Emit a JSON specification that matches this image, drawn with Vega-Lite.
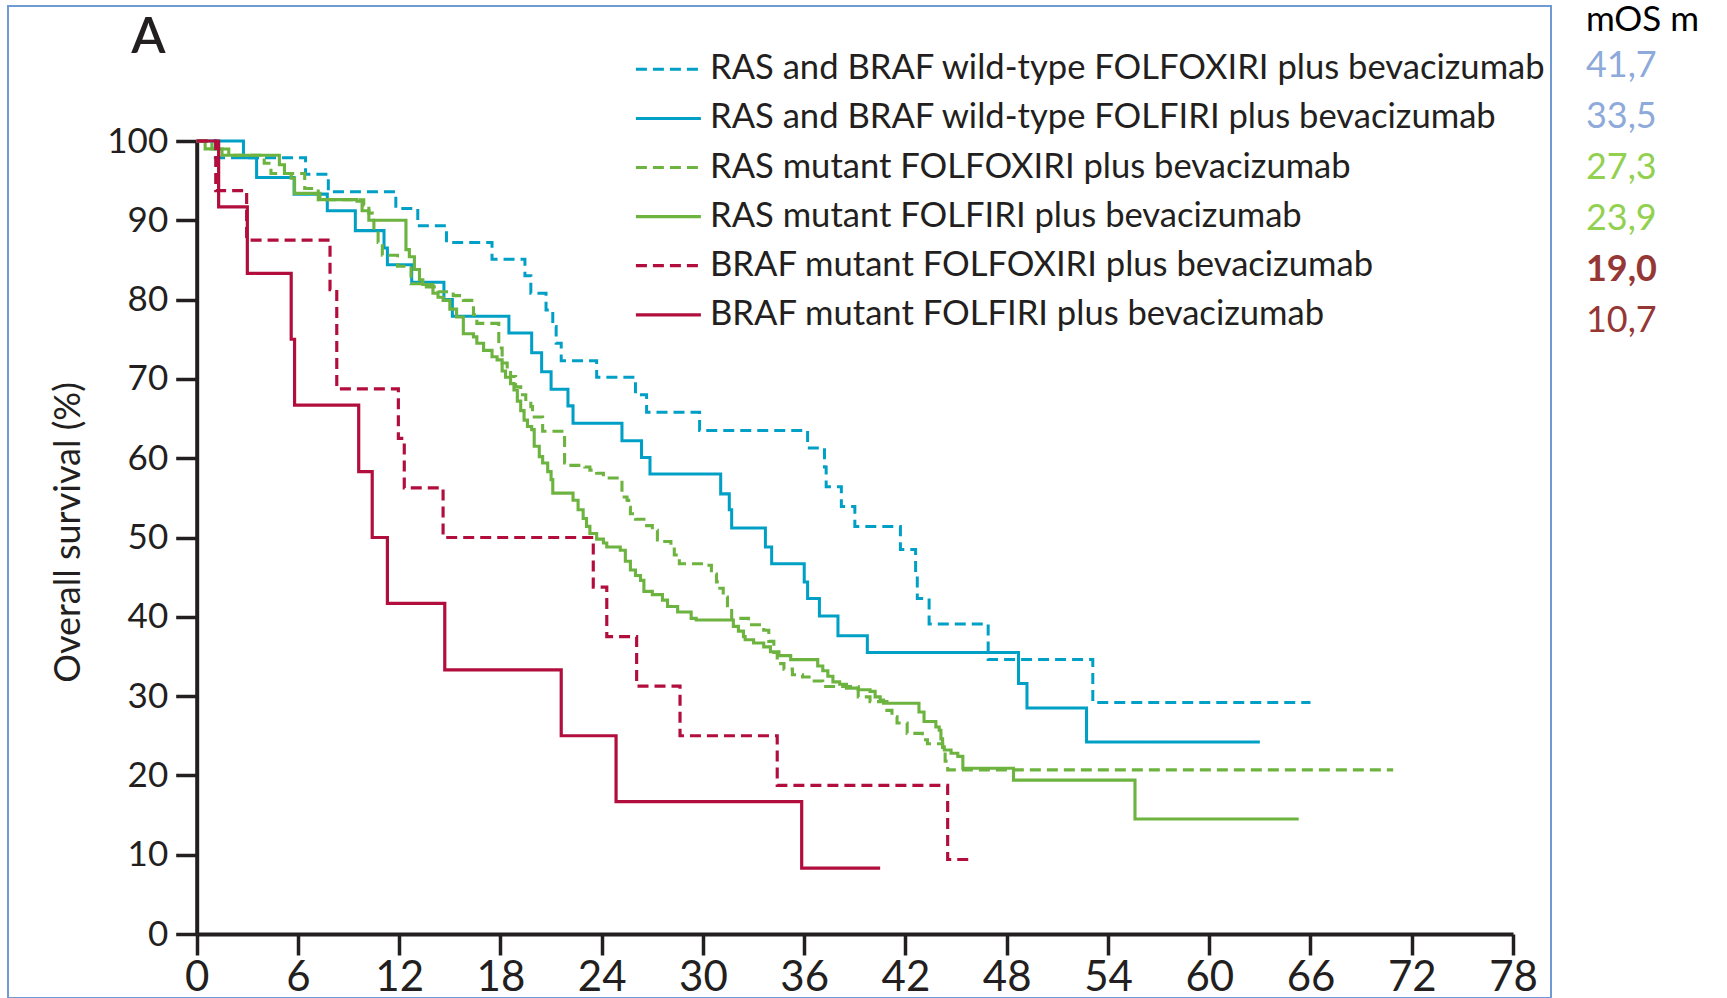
{
  "$schema": "https://vega.github.io/schema/vega-lite/v6.json",
  "width": 1543,
  "height": 992,
  "autosize": "none",
  "padding": {"left": 8, "top": 6, "right": 176, "bottom": 0},
  "background": "white",
  "config": {"view": {"stroke": "#6f9ad3", "strokeWidth": 2}, "font": "Lato"},
  "datasets": {
    "curves": [
      {"g": "RAS and BRAF wild-type FOLFOXIRI plus bevacizumab", "t": 0, "s": 100},
      {"g": "RAS and BRAF wild-type FOLFOXIRI plus bevacizumab", "t": 1.1, "s": 97.9},
      {"g": "RAS and BRAF wild-type FOLFOXIRI plus bevacizumab", "t": 6.45, "s": 95.8},
      {"g": "RAS and BRAF wild-type FOLFOXIRI plus bevacizumab", "t": 7.8, "s": 93.6},
      {"g": "RAS and BRAF wild-type FOLFOXIRI plus bevacizumab", "t": 11.8, "s": 91.5},
      {"g": "RAS and BRAF wild-type FOLFOXIRI plus bevacizumab", "t": 13.1, "s": 89.3},
      {"g": "RAS and BRAF wild-type FOLFOXIRI plus bevacizumab", "t": 14.8, "s": 87.2},
      {"g": "RAS and BRAF wild-type FOLFOXIRI plus bevacizumab", "t": 17.5, "s": 85.1},
      {"g": "RAS and BRAF wild-type FOLFOXIRI plus bevacizumab", "t": 19.45, "s": 83.0},
      {"g": "RAS and BRAF wild-type FOLFOXIRI plus bevacizumab", "t": 19.8, "s": 80.8},
      {"g": "RAS and BRAF wild-type FOLFOXIRI plus bevacizumab", "t": 20.7, "s": 78.7},
      {"g": "RAS and BRAF wild-type FOLFOXIRI plus bevacizumab", "t": 21.1, "s": 76.6},
      {"g": "RAS and BRAF wild-type FOLFOXIRI plus bevacizumab", "t": 21.3, "s": 74.5},
      {"g": "RAS and BRAF wild-type FOLFOXIRI plus bevacizumab", "t": 21.6, "s": 72.3},
      {"g": "RAS and BRAF wild-type FOLFOXIRI plus bevacizumab", "t": 23.7, "s": 70.2},
      {"g": "RAS and BRAF wild-type FOLFOXIRI plus bevacizumab", "t": 26.0, "s": 68.0},
      {"g": "RAS and BRAF wild-type FOLFOXIRI plus bevacizumab", "t": 26.66, "s": 65.8},
      {"g": "RAS and BRAF wild-type FOLFOXIRI plus bevacizumab", "t": 29.8, "s": 63.5},
      {"g": "RAS and BRAF wild-type FOLFOXIRI plus bevacizumab", "t": 36.2, "s": 61.3},
      {"g": "RAS and BRAF wild-type FOLFOXIRI plus bevacizumab", "t": 37.2, "s": 58.9},
      {"g": "RAS and BRAF wild-type FOLFOXIRI plus bevacizumab", "t": 37.3, "s": 56.4},
      {"g": "RAS and BRAF wild-type FOLFOXIRI plus bevacizumab", "t": 38.2, "s": 53.9},
      {"g": "RAS and BRAF wild-type FOLFOXIRI plus bevacizumab", "t": 39.0, "s": 51.4},
      {"g": "RAS and BRAF wild-type FOLFOXIRI plus bevacizumab", "t": 41.7, "s": 48.5},
      {"g": "RAS and BRAF wild-type FOLFOXIRI plus bevacizumab", "t": 42.6, "s": 45.3},
      {"g": "RAS and BRAF wild-type FOLFOXIRI plus bevacizumab", "t": 42.7, "s": 42.3},
      {"g": "RAS and BRAF wild-type FOLFOXIRI plus bevacizumab", "t": 43.4, "s": 39.1},
      {"g": "RAS and BRAF wild-type FOLFOXIRI plus bevacizumab", "t": 46.9, "s": 34.6},
      {"g": "RAS and BRAF wild-type FOLFOXIRI plus bevacizumab", "t": 53.1, "s": 29.2},
      {"g": "RAS and BRAF wild-type FOLFOXIRI plus bevacizumab", "t": 66.0, "s": 29.2},

      {"g": "RAS and BRAF wild-type FOLFIRI plus bevacizumab", "t": 0, "s": 100},
      {"g": "RAS and BRAF wild-type FOLFIRI plus bevacizumab", "t": 2.77, "s": 97.9},
      {"g": "RAS and BRAF wild-type FOLFIRI plus bevacizumab", "t": 3.55, "s": 95.4},
      {"g": "RAS and BRAF wild-type FOLFIRI plus bevacizumab", "t": 5.77, "s": 93.3},
      {"g": "RAS and BRAF wild-type FOLFIRI plus bevacizumab", "t": 7.74, "s": 91.2},
      {"g": "RAS and BRAF wild-type FOLFIRI plus bevacizumab", "t": 9.4, "s": 88.7},
      {"g": "RAS and BRAF wild-type FOLFIRI plus bevacizumab", "t": 11.1, "s": 86.5},
      {"g": "RAS and BRAF wild-type FOLFIRI plus bevacizumab", "t": 11.3, "s": 84.4},
      {"g": "RAS and BRAF wild-type FOLFIRI plus bevacizumab", "t": 12.74, "s": 82.2},
      {"g": "RAS and BRAF wild-type FOLFIRI plus bevacizumab", "t": 14.65, "s": 80.0},
      {"g": "RAS and BRAF wild-type FOLFIRI plus bevacizumab", "t": 15.15, "s": 77.9},
      {"g": "RAS and BRAF wild-type FOLFIRI plus bevacizumab", "t": 18.5, "s": 75.8},
      {"g": "RAS and BRAF wild-type FOLFIRI plus bevacizumab", "t": 19.85, "s": 73.3},
      {"g": "RAS and BRAF wild-type FOLFIRI plus bevacizumab", "t": 20.44, "s": 70.9},
      {"g": "RAS and BRAF wild-type FOLFIRI plus bevacizumab", "t": 21.0, "s": 68.7},
      {"g": "RAS and BRAF wild-type FOLFIRI plus bevacizumab", "t": 22.0, "s": 66.6},
      {"g": "RAS and BRAF wild-type FOLFIRI plus bevacizumab", "t": 22.3, "s": 64.4},
      {"g": "RAS and BRAF wild-type FOLFIRI plus bevacizumab", "t": 25.2, "s": 62.2},
      {"g": "RAS and BRAF wild-type FOLFIRI plus bevacizumab", "t": 26.36, "s": 60.1},
      {"g": "RAS and BRAF wild-type FOLFIRI plus bevacizumab", "t": 26.86, "s": 58.0},
      {"g": "RAS and BRAF wild-type FOLFIRI plus bevacizumab", "t": 31.05, "s": 55.5},
      {"g": "RAS and BRAF wild-type FOLFIRI plus bevacizumab", "t": 31.56, "s": 53.5},
      {"g": "RAS and BRAF wild-type FOLFIRI plus bevacizumab", "t": 31.7, "s": 51.2},
      {"g": "RAS and BRAF wild-type FOLFIRI plus bevacizumab", "t": 33.7, "s": 48.8},
      {"g": "RAS and BRAF wild-type FOLFIRI plus bevacizumab", "t": 34.07, "s": 46.7},
      {"g": "RAS and BRAF wild-type FOLFIRI plus bevacizumab", "t": 36.0, "s": 44.4},
      {"g": "RAS and BRAF wild-type FOLFIRI plus bevacizumab", "t": 36.2, "s": 42.3},
      {"g": "RAS and BRAF wild-type FOLFIRI plus bevacizumab", "t": 36.9, "s": 40.1},
      {"g": "RAS and BRAF wild-type FOLFIRI plus bevacizumab", "t": 38.0, "s": 37.6},
      {"g": "RAS and BRAF wild-type FOLFIRI plus bevacizumab", "t": 39.74, "s": 35.5},
      {"g": "RAS and BRAF wild-type FOLFIRI plus bevacizumab", "t": 48.7, "s": 31.6},
      {"g": "RAS and BRAF wild-type FOLFIRI plus bevacizumab", "t": 49.2, "s": 28.5},
      {"g": "RAS and BRAF wild-type FOLFIRI plus bevacizumab", "t": 52.73, "s": 24.2},
      {"g": "RAS and BRAF wild-type FOLFIRI plus bevacizumab", "t": 63.0, "s": 24.2},

      {"g": "RAS mutant FOLFOXIRI plus bevacizumab", "t": 0, "s": 100},
      {"g": "RAS mutant FOLFOXIRI plus bevacizumab", "t": 0.9, "s": 99.0},
      {"g": "RAS mutant FOLFOXIRI plus bevacizumab", "t": 1.9, "s": 98.2},
      {"g": "RAS mutant FOLFOXIRI plus bevacizumab", "t": 4.0, "s": 97.2},
      {"g": "RAS mutant FOLFOXIRI plus bevacizumab", "t": 4.4, "s": 95.9},
      {"g": "RAS mutant FOLFOXIRI plus bevacizumab", "t": 6.4, "s": 94.0},
      {"g": "RAS mutant FOLFOXIRI plus bevacizumab", "t": 7.2, "s": 92.6},
      {"g": "RAS mutant FOLFOXIRI plus bevacizumab", "t": 9.9, "s": 91.9},
      {"g": "RAS mutant FOLFOXIRI plus bevacizumab", "t": 10.2, "s": 90.9},
      {"g": "RAS mutant FOLFOXIRI plus bevacizumab", "t": 10.4, "s": 90.2},
      {"g": "RAS mutant FOLFOXIRI plus bevacizumab", "t": 10.5, "s": 88.8},
      {"g": "RAS mutant FOLFOXIRI plus bevacizumab", "t": 10.75, "s": 87.2},
      {"g": "RAS mutant FOLFOXIRI plus bevacizumab", "t": 11.0, "s": 85.6},
      {"g": "RAS mutant FOLFOXIRI plus bevacizumab", "t": 11.9, "s": 84.2},
      {"g": "RAS mutant FOLFOXIRI plus bevacizumab", "t": 12.7, "s": 82.0},
      {"g": "RAS mutant FOLFOXIRI plus bevacizumab", "t": 13.4, "s": 81.6},
      {"g": "RAS mutant FOLFOXIRI plus bevacizumab", "t": 14.3, "s": 81.0},
      {"g": "RAS mutant FOLFOXIRI plus bevacizumab", "t": 15.2, "s": 80.5},
      {"g": "RAS mutant FOLFOXIRI plus bevacizumab", "t": 15.8, "s": 79.9},
      {"g": "RAS mutant FOLFOXIRI plus bevacizumab", "t": 16.3, "s": 79.3},
      {"g": "RAS mutant FOLFOXIRI plus bevacizumab", "t": 16.4, "s": 78.1},
      {"g": "RAS mutant FOLFOXIRI plus bevacizumab", "t": 16.6, "s": 77.0},
      {"g": "RAS mutant FOLFOXIRI plus bevacizumab", "t": 17.9, "s": 73.9},
      {"g": "RAS mutant FOLFOXIRI plus bevacizumab", "t": 18.1, "s": 72.0},
      {"g": "RAS mutant FOLFOXIRI plus bevacizumab", "t": 18.4, "s": 71.1},
      {"g": "RAS mutant FOLFOXIRI plus bevacizumab", "t": 18.6, "s": 70.3},
      {"g": "RAS mutant FOLFOXIRI plus bevacizumab", "t": 18.9, "s": 69.0},
      {"g": "RAS mutant FOLFOXIRI plus bevacizumab", "t": 19.2, "s": 68.0},
      {"g": "RAS mutant FOLFOXIRI plus bevacizumab", "t": 19.5, "s": 67.2},
      {"g": "RAS mutant FOLFOXIRI plus bevacizumab", "t": 19.8, "s": 66.5},
      {"g": "RAS mutant FOLFOXIRI plus bevacizumab", "t": 19.9, "s": 65.2},
      {"g": "RAS mutant FOLFOXIRI plus bevacizumab", "t": 20.5, "s": 63.4},
      {"g": "RAS mutant FOLFOXIRI plus bevacizumab", "t": 21.8, "s": 59.4},
      {"g": "RAS mutant FOLFOXIRI plus bevacizumab", "t": 22.0, "s": 59.1},
      {"g": "RAS mutant FOLFOXIRI plus bevacizumab", "t": 23.0, "s": 58.9},
      {"g": "RAS mutant FOLFOXIRI plus bevacizumab", "t": 23.3, "s": 58.5},
      {"g": "RAS mutant FOLFOXIRI plus bevacizumab", "t": 23.7, "s": 58.1},
      {"g": "RAS mutant FOLFOXIRI plus bevacizumab", "t": 24.1, "s": 57.7},
      {"g": "RAS mutant FOLFOXIRI plus bevacizumab", "t": 24.3, "s": 57.5},
      {"g": "RAS mutant FOLFOXIRI plus bevacizumab", "t": 25.2, "s": 55.1},
      {"g": "RAS mutant FOLFOXIRI plus bevacizumab", "t": 25.5, "s": 54.7},
      {"g": "RAS mutant FOLFOXIRI plus bevacizumab", "t": 25.6, "s": 53.8},
      {"g": "RAS mutant FOLFOXIRI plus bevacizumab", "t": 25.7, "s": 53.0},
      {"g": "RAS mutant FOLFOXIRI plus bevacizumab", "t": 26.0, "s": 52.3},
      {"g": "RAS mutant FOLFOXIRI plus bevacizumab", "t": 26.5, "s": 51.5},
      {"g": "RAS mutant FOLFOXIRI plus bevacizumab", "t": 27.0, "s": 50.9},
      {"g": "RAS mutant FOLFOXIRI plus bevacizumab", "t": 27.3, "s": 49.7},
      {"g": "RAS mutant FOLFOXIRI plus bevacizumab", "t": 27.5, "s": 49.5},
      {"g": "RAS mutant FOLFOXIRI plus bevacizumab", "t": 28.1, "s": 48.8},
      {"g": "RAS mutant FOLFOXIRI plus bevacizumab", "t": 28.3, "s": 47.8},
      {"g": "RAS mutant FOLFOXIRI plus bevacizumab", "t": 28.6, "s": 46.7},
      {"g": "RAS mutant FOLFOXIRI plus bevacizumab", "t": 30.2, "s": 46.5},
      {"g": "RAS mutant FOLFOXIRI plus bevacizumab", "t": 30.5, "s": 45.4},
      {"g": "RAS mutant FOLFOXIRI plus bevacizumab", "t": 30.8, "s": 44.4},
      {"g": "RAS mutant FOLFOXIRI plus bevacizumab", "t": 31.0, "s": 43.6},
      {"g": "RAS mutant FOLFOXIRI plus bevacizumab", "t": 31.2, "s": 42.5},
      {"g": "RAS mutant FOLFOXIRI plus bevacizumab", "t": 31.45, "s": 41.2},
      {"g": "RAS mutant FOLFOXIRI plus bevacizumab", "t": 31.7, "s": 39.8},
      {"g": "RAS mutant FOLFOXIRI plus bevacizumab", "t": 32.7, "s": 39.0},
      {"g": "RAS mutant FOLFOXIRI plus bevacizumab", "t": 33.6, "s": 38.3},
      {"g": "RAS mutant FOLFOXIRI plus bevacizumab", "t": 33.9, "s": 36.9},
      {"g": "RAS mutant FOLFOXIRI plus bevacizumab", "t": 34.2, "s": 35.5},
      {"g": "RAS mutant FOLFOXIRI plus bevacizumab", "t": 34.4, "s": 34.1},
      {"g": "RAS mutant FOLFOXIRI plus bevacizumab", "t": 34.8, "s": 33.4},
      {"g": "RAS mutant FOLFOXIRI plus bevacizumab", "t": 35.3, "s": 32.7},
      {"g": "RAS mutant FOLFOXIRI plus bevacizumab", "t": 35.9, "s": 32.4},
      {"g": "RAS mutant FOLFOXIRI plus bevacizumab", "t": 36.5, "s": 31.9},
      {"g": "RAS mutant FOLFOXIRI plus bevacizumab", "t": 37.1, "s": 31.2},
      {"g": "RAS mutant FOLFOXIRI plus bevacizumab", "t": 39.2, "s": 29.9},
      {"g": "RAS mutant FOLFOXIRI plus bevacizumab", "t": 39.9, "s": 29.3},
      {"g": "RAS mutant FOLFOXIRI plus bevacizumab", "t": 40.9, "s": 28.2},
      {"g": "RAS mutant FOLFOXIRI plus bevacizumab", "t": 41.2, "s": 27.4},
      {"g": "RAS mutant FOLFOXIRI plus bevacizumab", "t": 41.5, "s": 26.6},
      {"g": "RAS mutant FOLFOXIRI plus bevacizumab", "t": 42.1, "s": 25.3},
      {"g": "RAS mutant FOLFOXIRI plus bevacizumab", "t": 43.0, "s": 24.5},
      {"g": "RAS mutant FOLFOXIRI plus bevacizumab", "t": 43.3, "s": 24.0},
      {"g": "RAS mutant FOLFOXIRI plus bevacizumab", "t": 44.2, "s": 23.0},
      {"g": "RAS mutant FOLFOXIRI plus bevacizumab", "t": 44.35, "s": 21.8},
      {"g": "RAS mutant FOLFOXIRI plus bevacizumab", "t": 44.5, "s": 20.7},
      {"g": "RAS mutant FOLFOXIRI plus bevacizumab", "t": 70.9, "s": 20.7},

      {"g": "RAS mutant FOLFIRI plus bevacizumab", "t": 0, "s": 100},
      {"g": "RAS mutant FOLFIRI plus bevacizumab", "t": 0.5, "s": 99.0},
      {"g": "RAS mutant FOLFIRI plus bevacizumab", "t": 1.5, "s": 98.2},
      {"g": "RAS mutant FOLFIRI plus bevacizumab", "t": 4.9, "s": 97.0},
      {"g": "RAS mutant FOLFIRI plus bevacizumab", "t": 5.2, "s": 95.9},
      {"g": "RAS mutant FOLFIRI plus bevacizumab", "t": 5.6, "s": 95.3},
      {"g": "RAS mutant FOLFIRI plus bevacizumab", "t": 5.8, "s": 93.4},
      {"g": "RAS mutant FOLFIRI plus bevacizumab", "t": 7.3, "s": 92.6},
      {"g": "RAS mutant FOLFIRI plus bevacizumab", "t": 9.5, "s": 92.4},
      {"g": "RAS mutant FOLFIRI plus bevacizumab", "t": 9.8, "s": 91.2},
      {"g": "RAS mutant FOLFIRI plus bevacizumab", "t": 10.2, "s": 90.0},
      {"g": "RAS mutant FOLFIRI plus bevacizumab", "t": 12.4, "s": 86.3},
      {"g": "RAS mutant FOLFIRI plus bevacizumab", "t": 12.6, "s": 85.4},
      {"g": "RAS mutant FOLFIRI plus bevacizumab", "t": 12.9, "s": 83.8},
      {"g": "RAS mutant FOLFIRI plus bevacizumab", "t": 13.2, "s": 82.5},
      {"g": "RAS mutant FOLFIRI plus bevacizumab", "t": 13.4, "s": 81.9},
      {"g": "RAS mutant FOLFIRI plus bevacizumab", "t": 14.0, "s": 80.8},
      {"g": "RAS mutant FOLFIRI plus bevacizumab", "t": 14.3, "s": 80.3},
      {"g": "RAS mutant FOLFIRI plus bevacizumab", "t": 14.6, "s": 79.9},
      {"g": "RAS mutant FOLFIRI plus bevacizumab", "t": 15.0, "s": 78.8},
      {"g": "RAS mutant FOLFIRI plus bevacizumab", "t": 15.4, "s": 77.8},
      {"g": "RAS mutant FOLFIRI plus bevacizumab", "t": 15.8, "s": 75.7},
      {"g": "RAS mutant FOLFIRI plus bevacizumab", "t": 16.4, "s": 75.3},
      {"g": "RAS mutant FOLFIRI plus bevacizumab", "t": 16.6, "s": 74.5},
      {"g": "RAS mutant FOLFIRI plus bevacizumab", "t": 17.0, "s": 73.6},
      {"g": "RAS mutant FOLFIRI plus bevacizumab", "t": 17.5, "s": 72.8},
      {"g": "RAS mutant FOLFIRI plus bevacizumab", "t": 17.8, "s": 72.4},
      {"g": "RAS mutant FOLFIRI plus bevacizumab", "t": 18.1, "s": 71.0},
      {"g": "RAS mutant FOLFIRI plus bevacizumab", "t": 18.3, "s": 70.2},
      {"g": "RAS mutant FOLFIRI plus bevacizumab", "t": 18.6, "s": 69.4},
      {"g": "RAS mutant FOLFIRI plus bevacizumab", "t": 18.8, "s": 68.6},
      {"g": "RAS mutant FOLFIRI plus bevacizumab", "t": 19.0, "s": 67.2},
      {"g": "RAS mutant FOLFIRI plus bevacizumab", "t": 19.2, "s": 66.0},
      {"g": "RAS mutant FOLFIRI plus bevacizumab", "t": 19.4, "s": 64.8},
      {"g": "RAS mutant FOLFIRI plus bevacizumab", "t": 19.6, "s": 64.0},
      {"g": "RAS mutant FOLFIRI plus bevacizumab", "t": 19.85, "s": 63.6},
      {"g": "RAS mutant FOLFIRI plus bevacizumab", "t": 20.0, "s": 61.5},
      {"g": "RAS mutant FOLFIRI plus bevacizumab", "t": 20.3, "s": 60.2},
      {"g": "RAS mutant FOLFIRI plus bevacizumab", "t": 20.5, "s": 59.4},
      {"g": "RAS mutant FOLFIRI plus bevacizumab", "t": 20.8, "s": 58.3},
      {"g": "RAS mutant FOLFIRI plus bevacizumab", "t": 21.0, "s": 57.3},
      {"g": "RAS mutant FOLFIRI plus bevacizumab", "t": 21.1, "s": 55.6},
      {"g": "RAS mutant FOLFIRI plus bevacizumab", "t": 22.3, "s": 54.7},
      {"g": "RAS mutant FOLFIRI plus bevacizumab", "t": 22.6, "s": 53.5},
      {"g": "RAS mutant FOLFIRI plus bevacizumab", "t": 22.9, "s": 52.4},
      {"g": "RAS mutant FOLFIRI plus bevacizumab", "t": 23.1, "s": 51.4},
      {"g": "RAS mutant FOLFIRI plus bevacizumab", "t": 23.3, "s": 50.5},
      {"g": "RAS mutant FOLFIRI plus bevacizumab", "t": 23.7, "s": 49.8},
      {"g": "RAS mutant FOLFIRI plus bevacizumab", "t": 24.1, "s": 49.3},
      {"g": "RAS mutant FOLFIRI plus bevacizumab", "t": 24.3, "s": 48.8},
      {"g": "RAS mutant FOLFIRI plus bevacizumab", "t": 25.1, "s": 48.4},
      {"g": "RAS mutant FOLFIRI plus bevacizumab", "t": 25.4, "s": 47.0},
      {"g": "RAS mutant FOLFIRI plus bevacizumab", "t": 25.7, "s": 45.9},
      {"g": "RAS mutant FOLFIRI plus bevacizumab", "t": 26.0, "s": 45.2},
      {"g": "RAS mutant FOLFIRI plus bevacizumab", "t": 26.3, "s": 44.6},
      {"g": "RAS mutant FOLFIRI plus bevacizumab", "t": 26.5, "s": 43.2},
      {"g": "RAS mutant FOLFIRI plus bevacizumab", "t": 27.0, "s": 42.8},
      {"g": "RAS mutant FOLFIRI plus bevacizumab", "t": 27.6, "s": 42.1},
      {"g": "RAS mutant FOLFIRI plus bevacizumab", "t": 27.9, "s": 41.3},
      {"g": "RAS mutant FOLFIRI plus bevacizumab", "t": 28.5, "s": 40.6},
      {"g": "RAS mutant FOLFIRI plus bevacizumab", "t": 29.3, "s": 39.8},
      {"g": "RAS mutant FOLFIRI plus bevacizumab", "t": 29.6, "s": 39.6},
      {"g": "RAS mutant FOLFIRI plus bevacizumab", "t": 31.8, "s": 38.8},
      {"g": "RAS mutant FOLFIRI plus bevacizumab", "t": 32.1, "s": 38.2},
      {"g": "RAS mutant FOLFIRI plus bevacizumab", "t": 32.4, "s": 37.5},
      {"g": "RAS mutant FOLFIRI plus bevacizumab", "t": 32.5, "s": 37.1},
      {"g": "RAS mutant FOLFIRI plus bevacizumab", "t": 33.0, "s": 36.7},
      {"g": "RAS mutant FOLFIRI plus bevacizumab", "t": 33.6, "s": 36.2},
      {"g": "RAS mutant FOLFIRI plus bevacizumab", "t": 34.0, "s": 35.6},
      {"g": "RAS mutant FOLFIRI plus bevacizumab", "t": 34.5, "s": 35.1},
      {"g": "RAS mutant FOLFIRI plus bevacizumab", "t": 35.2, "s": 34.6},
      {"g": "RAS mutant FOLFIRI plus bevacizumab", "t": 36.8, "s": 33.8},
      {"g": "RAS mutant FOLFIRI plus bevacizumab", "t": 37.1, "s": 33.2},
      {"g": "RAS mutant FOLFIRI plus bevacizumab", "t": 37.4, "s": 32.5},
      {"g": "RAS mutant FOLFIRI plus bevacizumab", "t": 37.7, "s": 31.8},
      {"g": "RAS mutant FOLFIRI plus bevacizumab", "t": 38.1, "s": 31.5},
      {"g": "RAS mutant FOLFIRI plus bevacizumab", "t": 38.5, "s": 31.0},
      {"g": "RAS mutant FOLFIRI plus bevacizumab", "t": 39.2, "s": 30.8},
      {"g": "RAS mutant FOLFIRI plus bevacizumab", "t": 39.9, "s": 30.6},
      {"g": "RAS mutant FOLFIRI plus bevacizumab", "t": 40.2, "s": 29.9},
      {"g": "RAS mutant FOLFIRI plus bevacizumab", "t": 40.5, "s": 29.5},
      {"g": "RAS mutant FOLFIRI plus bevacizumab", "t": 40.7, "s": 29.1},
      {"g": "RAS mutant FOLFIRI plus bevacizumab", "t": 42.8, "s": 28.0},
      {"g": "RAS mutant FOLFIRI plus bevacizumab", "t": 43.1, "s": 26.8},
      {"g": "RAS mutant FOLFIRI plus bevacizumab", "t": 43.8, "s": 26.1},
      {"g": "RAS mutant FOLFIRI plus bevacizumab", "t": 44.0, "s": 25.7},
      {"g": "RAS mutant FOLFIRI plus bevacizumab", "t": 44.1, "s": 24.6},
      {"g": "RAS mutant FOLFIRI plus bevacizumab", "t": 44.2, "s": 23.6},
      {"g": "RAS mutant FOLFIRI plus bevacizumab", "t": 44.3, "s": 23.2},
      {"g": "RAS mutant FOLFIRI plus bevacizumab", "t": 44.7, "s": 22.8},
      {"g": "RAS mutant FOLFIRI plus bevacizumab", "t": 45.1, "s": 22.4},
      {"g": "RAS mutant FOLFIRI plus bevacizumab", "t": 45.4, "s": 20.9},
      {"g": "RAS mutant FOLFIRI plus bevacizumab", "t": 48.4, "s": 19.4},
      {"g": "RAS mutant FOLFIRI plus bevacizumab", "t": 55.6, "s": 14.5},
      {"g": "RAS mutant FOLFIRI plus bevacizumab", "t": 65.3, "s": 14.5},

      {"g": "BRAF mutant FOLFOXIRI plus bevacizumab", "t": 0, "s": 100},
      {"g": "BRAF mutant FOLFOXIRI plus bevacizumab", "t": 1.13, "s": 93.75},
      {"g": "BRAF mutant FOLFOXIRI plus bevacizumab", "t": 2.96, "s": 87.5},
      {"g": "BRAF mutant FOLFOXIRI plus bevacizumab", "t": 7.9, "s": 81.25},
      {"g": "BRAF mutant FOLFOXIRI plus bevacizumab", "t": 8.3, "s": 68.75},
      {"g": "BRAF mutant FOLFOXIRI plus bevacizumab", "t": 11.95, "s": 62.5},
      {"g": "BRAF mutant FOLFOXIRI plus bevacizumab", "t": 12.3, "s": 56.25},
      {"g": "BRAF mutant FOLFOXIRI plus bevacizumab", "t": 14.6, "s": 50},
      {"g": "BRAF mutant FOLFOXIRI plus bevacizumab", "t": 23.5, "s": 43.75},
      {"g": "BRAF mutant FOLFOXIRI plus bevacizumab", "t": 24.3, "s": 37.5},
      {"g": "BRAF mutant FOLFOXIRI plus bevacizumab", "t": 26.07, "s": 31.25},
      {"g": "BRAF mutant FOLFOXIRI plus bevacizumab", "t": 28.64, "s": 25},
      {"g": "BRAF mutant FOLFOXIRI plus bevacizumab", "t": 34.4, "s": 18.75},
      {"g": "BRAF mutant FOLFOXIRI plus bevacizumab", "t": 44.5, "s": 9.4},
      {"g": "BRAF mutant FOLFOXIRI plus bevacizumab", "t": 45.9, "s": 9.4},

      {"g": "BRAF mutant FOLFIRI plus bevacizumab", "t": 0, "s": 100},
      {"g": "BRAF mutant FOLFIRI plus bevacizumab", "t": 1.3, "s": 91.7},
      {"g": "BRAF mutant FOLFIRI plus bevacizumab", "t": 3.0, "s": 83.3},
      {"g": "BRAF mutant FOLFIRI plus bevacizumab", "t": 5.6, "s": 75},
      {"g": "BRAF mutant FOLFIRI plus bevacizumab", "t": 5.8, "s": 66.7},
      {"g": "BRAF mutant FOLFIRI plus bevacizumab", "t": 9.6, "s": 58.3},
      {"g": "BRAF mutant FOLFIRI plus bevacizumab", "t": 10.4, "s": 50},
      {"g": "BRAF mutant FOLFIRI plus bevacizumab", "t": 11.3, "s": 41.7},
      {"g": "BRAF mutant FOLFIRI plus bevacizumab", "t": 14.7, "s": 33.3},
      {"g": "BRAF mutant FOLFIRI plus bevacizumab", "t": 21.6, "s": 25},
      {"g": "BRAF mutant FOLFIRI plus bevacizumab", "t": 24.85, "s": 16.7},
      {"g": "BRAF mutant FOLFIRI plus bevacizumab", "t": 35.85, "s": 8.3},
      {"g": "BRAF mutant FOLFIRI plus bevacizumab", "t": 40.5, "s": 8.3}
    ],
    "mos": [
      {"g": "header", "mos": "mOS m"},
      {"g": "RAS and BRAF wild-type FOLFOXIRI plus bevacizumab", "mos": "41,7"},
      {"g": "RAS and BRAF wild-type FOLFIRI plus bevacizumab", "mos": "33,5"},
      {"g": "RAS mutant FOLFOXIRI plus bevacizumab", "mos": "27,3"},
      {"g": "RAS mutant FOLFIRI plus bevacizumab", "mos": "23,9"},
      {"g": "BRAF mutant FOLFOXIRI plus bevacizumab", "mos": "19,0"},
      {"g": "BRAF mutant FOLFIRI plus bevacizumab", "mos": "10,7"}
    ],
    "panel": [{"panel": "A"}]
  },
  "resolve": {"scale": {"y": "independent"}},
  "layer": [
    {
      "data": {"name": "curves"},
      "mark": {"type": "line", "interpolate": "step-after", "clip": false},
      "encoding": {
        "x": {
          "field": "t", "type": "quantitative",
          "scale": {"domain": [0, 78], "range": [188.7, 1505], "nice": false, "zero": false},
          "axis": {
            "values": [0, 6, 12, 18, 24, 30, 36, 42, 48, 54, 60, 66, 72, 78],
            "offset": -64, "grid": false, "title": null,
            "domainColor": "#231f20", "domainWidth": 4,
            "tickColor": "#231f20", "tickWidth": 3.5, "tickSize": 21,
            "labelFont": "Liberation Sans Narrow, Arial Narrow, Lato", "labelFontSize": 42,
            "labelColor": "#231f20", "labelPadding": 2,
            "labelFlush": false, "labelOverlap": false, "labelBound": false
          }
        },
        "y": {
          "field": "s", "type": "quantitative",
          "scale": {"domain": [0, 100], "range": [928, 135], "nice": false, "zero": false},
          "axis": {
            "values": [0, 10, 20, 30, 40, 50, 60, 70, 80, 90, 100],
            "offset": -188.7, "grid": false,
            "domainColor": "#231f20", "domainWidth": 4,
            "tickColor": "#231f20", "tickWidth": 3.5, "tickSize": 21,
            "labelFont": "Lato", "labelFontSize": 35, "labelColor": "#231f20",
            "labelPadding": 8, "labelFlush": false, "labelOverlap": false, "labelBound": false,
            "title": "Overall survival (%)", "titleFont": "Lato", "titleFontSize": 36,
            "titleFontWeight": "normal", "titleColor": "#231f20",
            "titleAngle": -90, "titleX": -128.7, "titleY": 526,
            "titleAlign": "center", "titleBaseline": "middle"
          }
        },
        "color": {
          "field": "g", "type": "nominal",
          "scale": {
            "domain": ["RAS and BRAF wild-type FOLFOXIRI plus bevacizumab", "RAS and BRAF wild-type FOLFIRI plus bevacizumab", "RAS mutant FOLFOXIRI plus bevacizumab", "RAS mutant FOLFIRI plus bevacizumab", "BRAF mutant FOLFOXIRI plus bevacizumab", "BRAF mutant FOLFIRI plus bevacizumab"],
            "range": ["#00a0c6", "#00a0c6", "#6db33f", "#6db33f", "#b20e3d", "#b20e3d"]
          },
          "legend": {
            "title": null, "orient": "none", "legendX": 643.1, "legendY": 46,
            "symbolType": "M-4,0H4", "symbolSize": 264, "symbolStrokeWidth": 3,
            "labelFont": "Lato", "labelFontSize": 34.6, "labelColor": "#231f20",
            "labelOffset": 24.3, "labelLimit": 2000, "rowPadding": 14.1, "padding": 0
          }
        },
        "strokeDash": {
          "field": "g", "type": "nominal",
          "scale": {
            "domain": ["RAS and BRAF wild-type FOLFOXIRI plus bevacizumab", "RAS and BRAF wild-type FOLFIRI plus bevacizumab", "RAS mutant FOLFOXIRI plus bevacizumab", "RAS mutant FOLFIRI plus bevacizumab", "BRAF mutant FOLFOXIRI plus bevacizumab", "BRAF mutant FOLFIRI plus bevacizumab"],
            "range": [[11, 6], [1, 0], [11, 6], [1, 0], [11, 6], [1, 0]]
          },
          "legend": {
            "title": null, "orient": "none", "legendX": 643.1, "legendY": 46,
            "symbolType": "M-4,0H4", "symbolSize": 264, "symbolStrokeWidth": 3,
            "labelFont": "Lato", "labelFontSize": 34.6, "labelColor": "#231f20",
            "labelOffset": 24.3, "labelLimit": 2000, "rowPadding": 14.1, "padding": 0
          }
        },
        "opacity": {
          "field": "g", "type": "nominal",
          "scale": {
            "domain": ["RAS and BRAF wild-type FOLFOXIRI plus bevacizumab", "RAS and BRAF wild-type FOLFIRI plus bevacizumab", "RAS mutant FOLFOXIRI plus bevacizumab", "RAS mutant FOLFIRI plus bevacizumab", "BRAF mutant FOLFOXIRI plus bevacizumab", "BRAF mutant FOLFIRI plus bevacizumab"],
            "range": [1, 1, 1, 0.5, 1, 0.7]
          },
          "legend": null
        },
        "strokeWidth": {
          "field": "g", "type": "nominal",
          "scale": {
            "domain": ["RAS and BRAF wild-type FOLFOXIRI plus bevacizumab", "RAS and BRAF wild-type FOLFIRI plus bevacizumab", "RAS mutant FOLFOXIRI plus bevacizumab", "RAS mutant FOLFIRI plus bevacizumab", "BRAF mutant FOLFOXIRI plus bevacizumab", "BRAF mutant FOLFIRI plus bevacizumab"],
            "range": [3, 3.2, 3, 4.5, 3, 3.5]
          },
          "legend": null
        }
      }
    },
    {
      "data": {"name": "mos"},
      "transform": [{"filter": "datum.g === 'header'"}],
      "mark": {"type": "text", "align": "left", "baseline": "middle", "font": "Lato", "fontSize": 35, "color": "#000000", "clip": false},
      "encoding": {
        "x": {"datum": 82.32, "type": "quantitative"},
        "y": {
          "field": "g", "type": "nominal",
          "scale": {"type": "point", "domain": ["header"], "range": [13.5, 13.5], "padding": 0},
          "axis": null
        },
        "text": {"field": "mos"}
      }
    },
    {
      "data": {"name": "mos"},
      "transform": [{"filter": "datum.g !== 'header' && datum.g !== 'BRAF mutant FOLFOXIRI plus bevacizumab'"}],
      "mark": {"type": "text", "align": "left", "baseline": "middle", "font": "Lato", "fontSize": 36, "clip": false},
      "encoding": {
        "x": {"datum": 82.32, "type": "quantitative"},
        "y": {
          "field": "g", "type": "nominal",
          "scale": {"type": "point", "domain": ["RAS and BRAF wild-type FOLFOXIRI plus bevacizumab", "RAS and BRAF wild-type FOLFIRI plus bevacizumab", "RAS mutant FOLFOXIRI plus bevacizumab", "RAS mutant FOLFIRI plus bevacizumab", "BRAF mutant FOLFOXIRI plus bevacizumab", "BRAF mutant FOLFIRI plus bevacizumab"], "range": [60, 315], "padding": 0},
          "axis": null
        },
        "fill": {
          "field": "g", "type": "nominal",
          "scale": {
            "domain": ["RAS and BRAF wild-type FOLFOXIRI plus bevacizumab", "RAS and BRAF wild-type FOLFIRI plus bevacizumab", "RAS mutant FOLFOXIRI plus bevacizumab", "RAS mutant FOLFIRI plus bevacizumab", "BRAF mutant FOLFIRI plus bevacizumab"],
            "range": ["#8eaadb", "#8eaadb", "#92d050", "#92d050", "#953735"]
          },
          "legend": null
        },
        "text": {"field": "mos"}
      }
    },
    {
      "data": {"name": "mos"},
      "transform": [{"filter": "datum.g === 'BRAF mutant FOLFOXIRI plus bevacizumab'"}],
      "mark": {"type": "text", "align": "left", "baseline": "middle", "font": "Lato", "fontSize": 36, "fontWeight": "bold", "color": "#953735", "clip": false},
      "encoding": {
        "x": {"datum": 82.32, "type": "quantitative"},
        "y": {
          "field": "g", "type": "nominal",
          "scale": {"type": "point", "domain": ["RAS and BRAF wild-type FOLFOXIRI plus bevacizumab", "RAS and BRAF wild-type FOLFIRI plus bevacizumab", "RAS mutant FOLFOXIRI plus bevacizumab", "RAS mutant FOLFIRI plus bevacizumab", "BRAF mutant FOLFOXIRI plus bevacizumab", "BRAF mutant FOLFIRI plus bevacizumab"], "range": [60, 315], "padding": 0},
          "axis": null
        },
        "text": {"field": "mos"}
      }
    },
    {
      "data": {"name": "panel"},
      "mark": {"type": "text", "align": "center", "baseline": "alphabetic", "font": "Lato", "fontSize": 50, "fontWeight": 600, "color": "#231f20", "clip": false},
      "encoding": {
        "x": {"datum": -2.86, "type": "quantitative"},
        "y": {"datum": 111.1, "type": "quantitative", "scale": {"domain": [0, 100], "range": [928, 135], "nice": false, "zero": false}, "axis": null},
        "text": {"field": "panel"}
      }
    }
  ]
}
